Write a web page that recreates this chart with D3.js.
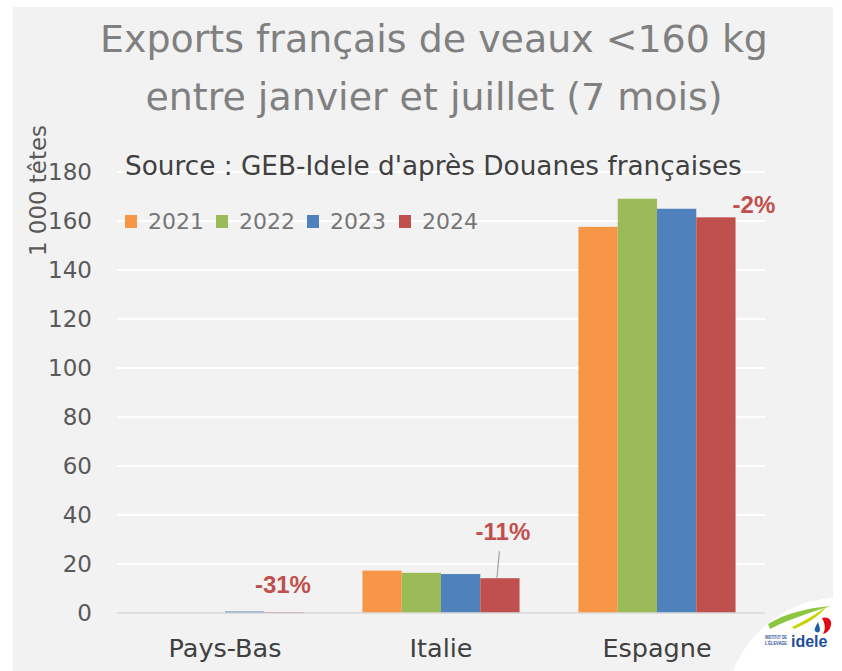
<!DOCTYPE html>
<html><head><meta charset="utf-8">
<script src="https://cdn.jsdelivr.net/npm/d3@7"></script>
<style>html,body{margin:0;padding:0;background:#fff;}svg{display:block;}</style>
</head><body>
<svg id="c" width="842" height="671"></svg>
<script>
// ---- data ----
const categories = ["Pays-Bas", "Italie", "Espagne"];
const years = ["2021", "2022", "2023", "2024"];
const v2021 = [0, 17.3, 157.6];
const v2022 = [0, 16.4, 169.1];
const v2023 = [0.6, 15.9, 165.0];
const v2024 = [0.4, 14.2, 161.5];
const changeLabels = ["-31%", "-11%", "-2%"];
const yTicks = [0, 20, 40, 60, 80, 100, 120, 140, 160, 180];
const titleLines = ["Exports français de veaux <160 kg", "entre janvier et juillet (7 mois)"];
const sourceText = "Source : GEB-Idele d'après Douanes françaises";
const yTitle = "1 000 têtes";

const series = [v2021, v2022, v2023, v2024];
const colors = ["#f79646", "#9bbb59", "#4f81bd", "#c0504d"];
const FONT = "'DejaVu Sans', sans-serif";

const svg = d3.select("#c");
function fit(sel, w) {
  const n = sel.node();
  const fs = parseFloat(sel.attr("font-size"));
  const len = n.getComputedTextLength();
  sel.attr("font-size", (fs * w / len).toFixed(2));
  return fs * w / len;
}

// background panel
svg.append("rect").attr("x", 13).attr("y", 7).attr("width", 820).attr("height", 664).attr("fill", "#f2f2f2");

const x0 = d3.scaleBand().domain(categories).range([117, 765]).paddingInner(0).paddingOuter(0);
const x1 = d3.scaleBand().domain(years).range([0, x0.bandwidth()]).paddingInner(0).paddingOuter(0.75);
const y = d3.scaleLinear().domain([0, 180]).range([613, 172]);

// gridlines
svg.append("g").selectAll("line").data(yTicks.filter(d => d > 0)).join("line")
  .attr("x1", 117).attr("x2", 765).attr("y1", d => y(d)).attr("y2", d => y(d))
  .attr("stroke", "#ffffff").attr("stroke-width", 2);

// y axis labels
const yAxis = d3.axisLeft(y).tickValues(yTicks).tickSize(0).tickPadding(0);
const ga = svg.append("g").attr("transform", "translate(92,0)").call(yAxis);
ga.select(".domain").remove();
ga.selectAll("text").attr("font-family", FONT).attr("font-size", 23).attr("fill", "#595959");

// bars
const groups = svg.append("g").selectAll("g").data(categories).join("g")
  .attr("transform", d => `translate(${x0(d)},0)`);
groups.selectAll("rect").data((c, i) => years.map((yr, k) => ({ yr, v: series[k][i], k })))
  .join("rect")
  .attr("x", d => x1(d.yr)).attr("width", x1.bandwidth())
  .attr("y", d => y(d.v)).attr("height", d => y(0) - y(d.v))
  .attr("fill", d => colors[d.k]);

// baseline
svg.append("line").attr("x1", 117).attr("x2", 765).attr("y1", y(0)).attr("y2", y(0))
  .attr("stroke", "#d9d9d9").attr("stroke-width", 1.5);

// category labels
const cl = svg.append("g").selectAll("text").data(categories).join("text")
  .attr("x", d => x0(d) + x0.bandwidth() / 2).attr("y", 657)
  .attr("text-anchor", "middle").attr("font-family", FONT).attr("font-size", 24)
  .attr("fill", "#404040").text(d => d);
const cfs = fit(d3.select(cl.nodes()[0]), 113);
cl.attr("font-size", cfs.toFixed(2));

// change labels (offsets relative to the 2024 bar)
const labelOffsets = [[-1, -19], [3, -38], [38, -4]];
const lblGroup = svg.append("g");
categories.forEach((c, i) => {
  const bx = x0(c) + x1("2024") + x1.bandwidth() / 2;
  const by = y(v2024[i]);
  const lx = bx + labelOffsets[i][0], ly = by + labelOffsets[i][1];
  if (i === 1) {
    lblGroup.append("line").attr("x1", bx - 0.5).attr("y1", ly + 11).attr("x2", bx - 3).attr("y2", by)
      .attr("stroke", "#a6a6a6").attr("stroke-width", 1.3);
  }
  lblGroup.append("text").attr("x", lx).attr("y", ly).attr("text-anchor", "middle")
    .attr("font-family", "'Liberation Sans', Arial, sans-serif").attr("font-weight", "bold")
    .attr("font-size", 24).attr("fill", "#c0504d").text(changeLabels[i]);
});

// title
const t1 = svg.append("text").attr("x", 434).attr("y", 52).attr("text-anchor", "middle")
  .attr("font-family", FONT).attr("font-size", 36).attr("fill", "#808080").text(titleLines[0]);
const tfs = fit(t1, 668);
svg.append("text").attr("x", 434).attr("y", 110).attr("text-anchor", "middle")
  .attr("font-family", FONT).attr("font-size", tfs.toFixed(2)).attr("fill", "#808080").text(titleLines[1]);

// source
const st = svg.append("text").attr("x", 125).attr("y", 175)
  .attr("font-family", FONT).attr("font-size", 22).attr("fill", "#404040").text(sourceText);
fit(st, 617);

// legend
const legX = [125, 216, 307, 399];
const lg = svg.append("g").selectAll("g").data(years).join("g")
  .attr("transform", (d, i) => `translate(${legX[i]},0)`);
lg.append("rect").attr("x", 0).attr("y", 215).attr("width", 12).attr("height", 13)
  .attr("fill", (d, i) => colors[i]);
const lt = lg.append("text").attr("x", 23).attr("y", 229)
  .attr("font-family", FONT).attr("font-size", 22).attr("fill", "#767676").text(d => d);
const lfs = fit(d3.select(lt.nodes()[0]), 56);
lt.attr("font-size", lfs.toFixed(2));

// y title
const yt = svg.append("text").attr("transform", "translate(46,256) rotate(-90)")
  .attr("font-family", FONT).attr("font-size", 22).attr("fill", "#595959").text(yTitle);
fit(yt, 131);

// logo
const logo = svg.append("g");
logo.append("path").attr("d", "M733,671 C745,640 772,614 805,603 C820,599 834,597 842,597 L842,671 Z").attr("fill", "#ffffff");
logo.append("path").attr("d", "M768,624 C786,613 808,608 831,606 C812,612 792,618 770,629 Z").attr("fill", "#8dc63f");
logo.append("path").attr("d", "M792,627 C806,620 818,613 827,606 C819,617 806,624 794,629 Z").attr("fill", "#c8d400");
logo.append("path").attr("d", "M822,618 C828,616 832,620 831,625 C830,630 827,633 823,634 C826,629 825,623 822,618 Z").attr("fill", "#e30613");
logo.append("path").attr("d", "M818,622 C816,626 814,629 815,631 C816,633 820,633 820,630 C820,628 819,625 818,622 Z").attr("fill", "#1f5fa8");
logo.append("text").attr("x", 765).attr("y", 639).attr("font-family", "'Liberation Sans', sans-serif")
  .attr("font-size", 4.5).attr("font-weight", "bold").attr("fill", "#1f4e9c")
  .attr("textLength", 22).attr("lengthAdjust", "spacingAndGlyphs").text("INSTITUT DE");
logo.append("text").attr("x", 765).attr("y", 645).attr("font-family", "'Liberation Sans', sans-serif")
  .attr("font-size", 4.5).attr("font-weight", "bold").attr("fill", "#1f4e9c")
  .attr("textLength", 22).attr("lengthAdjust", "spacingAndGlyphs").text("L'ÉLEVAGE");
logo.append("text").attr("x", 791).attr("y", 647).attr("font-family", "'Liberation Sans', sans-serif")
  .attr("font-size", 16).attr("font-weight", "bold").attr("fill", "#1f4e9c").text("idele");
</script>
</body></html>
